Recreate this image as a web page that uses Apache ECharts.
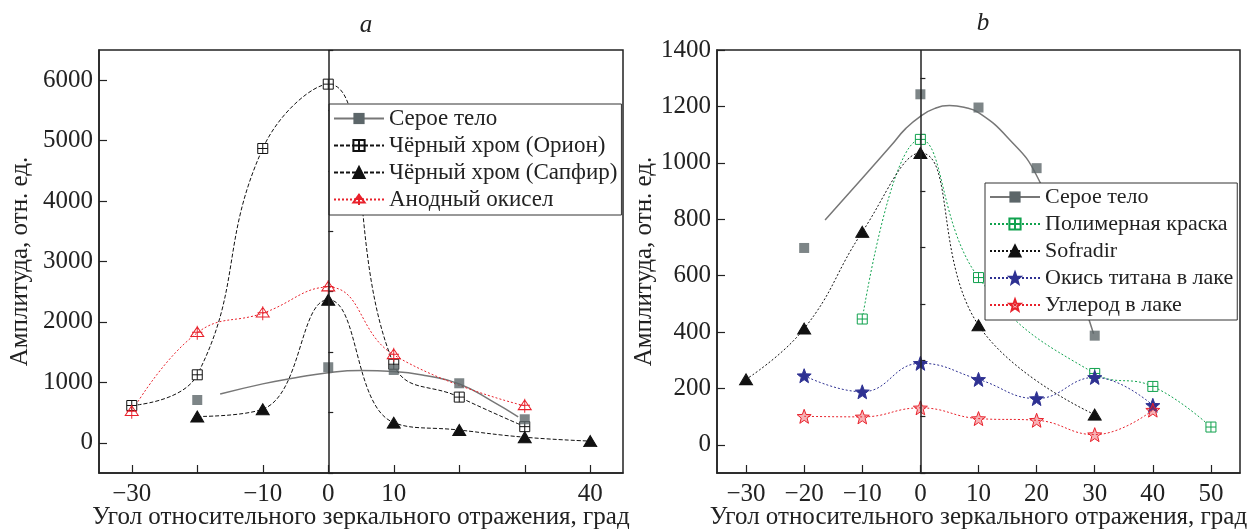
<!DOCTYPE html>
<html>
<head>
<meta charset="utf-8">
<script src="https://cdn.jsdelivr.net/npm/echarts@6/dist/echarts.min.js"></script>
<style>
  html, body { margin: 0; background: #fff; }
  #chart { width: 1256px; height: 531px; }
</style>
</head>
<body>
<div id="chart"></div>
<script>
// panel a: [angle, amplitude]
const grayFitA = [[-16.5, 806], [-10, 975], [-5, 1075], [0, 1160], [5, 1195], [10, 1180], [15, 1110], [20, 975], [25, 690], [29, 430]];
const grayA = [[-20, 708], [0, 1250], [10, 1205], [20, 985], [30, 389]];
const orionA = [[-30, 617], [-20, 1125], [-10, 4870], [0, 5935], [10, 1300], [20, 756], [30, 267]];
const sapphireA = [[-20, 435], [-10, 556], [0, 2368], [10, 333], [20, 211], [30, 92], [40, 28]];
const anodeA = [[-30, 515], [-20, 1820], [-10, 2144], [0, 2576], [10, 1455], [30, 611]];

// panel b
const grayFitB = [[-16.4, 797], [-10, 945], [-5, 1062], [-2.5, 1122], [0, 1165], [2.5, 1193], [5, 1203], [7.5, 1197], [10, 1178], [15, 1090], [20, 955], [25, 690], [29.8, 394]];
const grayB = [[-20, 698], [0, 1243], [10, 1196], [20, 981], [30, 387]];
const paintB = [[-10, 446], [0, 1083], [10, 593], [30, 253], [40, 207], [50, 63]];
const sofradirB = [[-30, 232], [-20, 412], [-10, 755], [0, 1035], [10, 424], [30, 107]];
const titaniumB = [[-20, 245], [-10, 188], [0, 289], [10, 232], [20, 164], [30, 239], [40, 140]];
const carbonB = [[-20, 101], [-10, 99], [0, 131], [10, 93], [20, 87], [30, 36], [40, 123]];

const legendA = ['Серое тело', 'Чёрный хром (Орион)', 'Чёрный хром (Сапфир)', 'Анодный окисел'];
const legendB = ['Серое тело', 'Полимерная краска', 'Sofradir', 'Окись титана в лаке', 'Углерод в лаке'];

const xTicksA = [-30, -20, -10, 0, 10, 20, 30, 40];
const xLabelsA = [-30, -10, 0, 10, 40];
const xTicksB = [-30, -20, -10, 0, 10, 20, 30, 40, 50];
const yTicksA = [0, 1000, 2000, 3000, 4000, 5000, 6000];
const yMinorA = [-500, 500, 1500, 2500, 3500, 4500, 5500, 6500];
const yTicksB = [0, 200, 400, 600, 800, 1000, 1200, 1400];
const yMinorB = [-100, 100, 300, 500, 700, 900, 1100, 1300];

const FONT = 'Liberation Serif';
const INK = '#222';
const GRAY = '#5c6669';

const boxCross = 'path://M0,0H10V10H0Z M5,0V10 M0,5H10';
const triCross = 'path://M5,0L10,9H0Z M5,-1V12 M1,5H9';
const star = 'path://M10,0L12.47,6.6L19.51,6.91L13.99,11.3L15.88,18.09L10,14.2L4.12,18.09L6.01,11.3L0.49,6.91L7.53,6.6Z';

const fmt = v => (v < 0 ? '\u2212' + Math.abs(v) : String(v));

function xAxis(grid, min, max, ticks, labels, name) {
  return {
    type: 'value', gridIndex: grid, min: min, max: max,
    name: name, nameLocation: 'middle', nameGap: 32, nameMoveOverlap: false,
    nameTextStyle: { fontFamily: FONT, fontSize: 25, color: INK },
    axisLine: { show: true, onZero: false, lineStyle: { color: INK, width: 1.5 } },
    axisTick: { show: true, inside: true, length: 8, customValues: ticks, lineStyle: { color: INK, width: 1.2 } },
    axisLabel: { customValues: labels, formatter: fmt, fontFamily: FONT, fontSize: 25, color: INK, margin: 9 },
    splitLine: { show: false }
  };
}

function yAxis(grid, min, max, ticks, gap) {
  return {
    type: 'value', gridIndex: grid, min: min, max: max, position: 'left',
    name: 'Амплитуда, отн. ед.', nameLocation: 'middle', nameGap: gap,
    nameTextStyle: { fontFamily: FONT, fontSize: 25, color: INK },
    axisLine: { show: true, onZero: false, lineStyle: { color: INK, width: 1.5 } },
    axisTick: { show: true, inside: true, length: 8, customValues: ticks, lineStyle: { color: INK, width: 1.2 } },
    axisLabel: { customValues: ticks, formatter: fmt, fontFamily: FONT, fontSize: 25, color: INK, margin: 6 },
    splitLine: { show: false }
  };
}

function minorAxis(grid, min, max, ticks) {
  return {
    type: 'value', gridIndex: grid, min: min, max: max, position: 'left',
    axisLine: { show: false },
    axisTick: { show: true, inside: true, length: 5, customValues: ticks, lineStyle: { color: INK, width: 1.2 } },
    axisLabel: { show: false },
    splitLine: { show: false }
  };
}

function curve(name, data, xi, yi, color, symbol, size, dash, fill) {
  return {
    type: 'line', name: name, data: data, xAxisIndex: xi, yAxisIndex: yi,
    smooth: 0.45, symbol: symbol, symbolSize: size, showSymbol: true,
    lineStyle: { color: color, width: 1, type: dash },
    itemStyle: { color: fill, borderColor: color, borderWidth: 1 },
    z: 3
  };
}

function grayFit(data, xi, yi) {
  return {
    type: 'line', name: 'Серое тело', data: data, xAxisIndex: xi, yAxisIndex: yi,
    smooth: 0.5, symbol: 'rect', symbolSize: 10, showSymbol: false,
    lineStyle: { color: '#777', width: 1.5 },
    itemStyle: { color: GRAY },
    markLine: {
      silent: true, symbol: 'none', label: { show: false },
      lineStyle: { color: INK, type: 'solid', width: 1.5 },
      data: [{ xAxis: 0 }]
    },
    z: 2
  };
}

function grayDots(data, xi, yi) {
  return {
    type: 'scatter', name: 'Серое тело', data: data, xAxisIndex: xi, yAxisIndex: yi,
    symbol: 'rect', symbolSize: 10, itemStyle: { color: GRAY }, z: 4
  };
}

function legend(names, left, top, size) {
  return {
    data: names, orient: 'vertical', left: left, top: top,
    itemWidth: 50, itemHeight: 14, itemGap: 27 - size,
    padding: [3, 4, 4, 4],
    backgroundColor: '#fff', borderColor: '#333', borderWidth: 1,
    selectedMode: false,
    textStyle: { fontFamily: FONT, fontSize: size, color: INK, lineHeight: size }
  };
}

const chart = echarts.init(document.getElementById('chart'));
chart.setOption({
  animation: false,
  title: [
    { text: 'a', left: 361, top: 8, textAlign: 'center', textStyle: { fontFamily: FONT, fontStyle: 'italic', fontWeight: 'normal', fontSize: 25, color: INK } },
    { text: 'b', left: 978, top: 6, textAlign: 'center', textStyle: { fontFamily: FONT, fontStyle: 'italic', fontWeight: 'normal', fontSize: 25, color: INK } }
  ],
  grid: [
    { left: 99, top: 50, width: 524, height: 423, outerBoundsMode: 'none', containLabel: false, show: true, borderColor: INK, borderWidth: 1.5, backgroundColor: 'transparent' },
    { left: 717, top: 50, width: 523, height: 423, outerBoundsMode: 'none', containLabel: false, show: true, borderColor: INK, borderWidth: 1.5, backgroundColor: 'transparent' }
  ],
  legend: [legend(legendA, 329, 104, 23), legend(legendB, 985, 183, 22)],
  xAxis: [
    xAxis(0, -35, 45, xTicksA, xLabelsA, 'Угол относительного зеркального отражения, град'),
    xAxis(1, -35, 55, xTicksB, xTicksB, 'Угол относительного зеркального отражения, град')
  ],
  yAxis: [
    yAxis(0, -500, 6500, yTicksA, 66),
    minorAxis(0, -500, 6500, yMinorA),
    yAxis(1, -100, 1400, yTicksB, 52),
    minorAxis(1, -100, 1400, yMinorB)
  ],
  series: [
    grayFit(grayFitA, 0, 0),
    curve('Чёрный хром (Орион)', orionA, 0, 0, '#111', boxCross, 10, [4, 2], '#fff'),
    curve('Чёрный хром (Сапфир)', sapphireA, 0, 0, '#111', 'triangle', [13, 11], [4, 2], '#111'),
    curve('Анодный окисел', anodeA, 0, 0, '#e8212b', triCross, [13, 14], [2, 2], 'rgba(255,255,255,0)'),
    grayDots(grayA, 0, 0),

    grayFit(grayFitB, 1, 2),
    curve('Полимерная краска', paintB, 1, 2, '#10a24e', boxCross, 10, [2, 2], '#fff'),
    curve('Sofradir', sofradirB, 1, 2, '#111', 'triangle', [13, 11], [2, 2], '#111'),
    curve('Окись титана в лаке', titaniumB, 1, 2, '#2e3192', star, 14, [2, 2], '#2e3192'),
    curve('Углерод в лаке', carbonB, 1, 2, '#e8212b', star, 14, [2, 2], 'rgba(232,33,43,0.35)'),
    grayDots(grayB, 1, 2)
  ]
});
</script>
</body>
</html>
